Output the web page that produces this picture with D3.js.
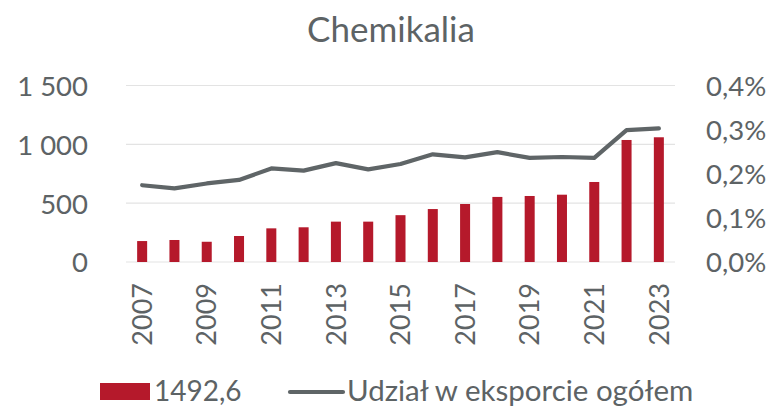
<!DOCTYPE html>
<html>
<head>
<meta charset="utf-8">
<script src="https://cdn.jsdelivr.net/npm/d3@7"></script>
<style>
  html, body { margin: 0; padding: 0; background: #fff; }
  svg { display: block; font-family: Lato, "Open Sans", sans-serif; }
</style>
</head>
<body>
<svg id="chart" width="771" height="407"></svg>
<script>
// Chemical exports: value (left axis) and share of total exports (right axis, %)
const years = ["2007","2008","2009","2010","2011","2012","2013","2014","2015",
               "2016","2017","2018","2019","2020","2021","2022","2023"];
const exportValue = [178, 187, 172, 221, 286, 295, 343, 343, 398,
                     450, 493, 553, 561, 572, 680, 1037, 1060];
const exportShare = [0.174, 0.167, 0.178, 0.186, 0.212, 0.207, 0.224, 0.210, 0.222,
                     0.244, 0.237, 0.249, 0.236, 0.238, 0.236, 0.299, 0.303];
const leftTicks = [0, 500, 1000, 1500];
const rightTicks = [0, 0.1, 0.2, 0.3, 0.4];
const title = "Chemikalia";
const barSeriesName = "1492,6";
const lineSeriesName = "Udział w eksporcie ogółem";

const svg = d3.select("#chart");
const textColor = "#5d6365";
const barColor = "#b5192b";
const lineColor = "#5f6567";
const gridColor = "#e3e3e3";

const plot = { left: 126, right: 675, top: 85.5, bottom: 262 };

const x = d3.scaleBand().domain(years).range([plot.left, plot.right]).paddingInner(0.69).paddingOuter(0.345);
const yL = d3.scaleLinear().domain([0, 1500]).range([plot.bottom, plot.top]);
const yR = d3.scaleLinear().domain([0, 0.4]).range([plot.bottom, plot.top]);

// gridlines
svg.append("g").selectAll("line").data(leftTicks).join("line")
  .attr("x1", plot.left).attr("x2", plot.right)
  .attr("y1", d => yL(d)).attr("y2", d => yL(d))
  .attr("stroke", gridColor).attr("stroke-width", 1.2);

// left axis
const fmtL = d => d3.format(",")(d).replace(/,/g, " ");
const leftAxis = svg.append("g").attr("transform", `translate(${plot.left - 36},0)`)
  .call(d3.axisLeft(yL).tickValues(leftTicks).tickFormat(fmtL).tickSize(0).tickPadding(2));
leftAxis.select(".domain").remove();
leftAxis.selectAll("text").attr("fill", textColor).style("font-size", "27.5px")
  .style("font-family", "Lato, sans-serif").attr("dy", "0.36em");

// right axis
const fmtR = d => d3.format(".1f")(d).replace(".", ",") + "%";
const rightAxis = svg.append("g").attr("transform", `translate(${plot.right + 29},0)`)
  .call(d3.axisRight(yR).tickValues(rightTicks).tickFormat(fmtR).tickSize(0).tickPadding(2));
rightAxis.select(".domain").remove();
rightAxis.selectAll("text").attr("fill", textColor).style("font-size", "27.5px")
  .style("font-family", "Lato, sans-serif").attr("dy", "0.36em");

// bars
svg.append("g").selectAll("rect").data(years).join("rect")
  .attr("x", d => x(d)).attr("width", x.bandwidth())
  .attr("y", (d, i) => yL(exportValue[i]))
  .attr("height", (d, i) => yL(0) - yL(exportValue[i]))
  .attr("fill", barColor);

// line
const line = d3.line()
  .x((d, i) => x(years[i]) + x.bandwidth() / 2)
  .y(d => yR(d));
svg.append("path").datum(exportShare)
  .attr("d", line).attr("fill", "none")
  .attr("stroke", lineColor).attr("stroke-width", 4.2)
  .attr("stroke-linejoin", "round").attr("stroke-linecap", "round");

// x-axis labels (every other year), rotated
const xAxis = svg.append("g").attr("transform", `translate(0,${plot.bottom})`)
  .call(d3.axisBottom(x).tickValues(years.filter((d, i) => i % 2 === 0)).tickSize(0).tickPadding(0));
xAxis.select(".domain").remove();
xAxis.selectAll("text")
  .attr("fill", textColor).style("font-size", "27px").style("font-family", "Lato, sans-serif")
  .attr("text-anchor", "end")
  .attr("transform", "rotate(-90)")
  .attr("x", -21).attr("y", 0).attr("dy", "0.36em");

// title
svg.append("text").attr("x", 391).attr("y", 42).attr("text-anchor", "middle")
  .attr("fill", textColor).style("font-size", "35px").text(title);

// legend
const lg = svg.append("g");
lg.append("rect").attr("x", 100).attr("y", 383).attr("width", 50).attr("height", 17).attr("fill", barColor);
lg.append("text").attr("x", 154).attr("y", 401).attr("fill", textColor).style("font-size", "28px").text(barSeriesName);
lg.append("line").attr("x1", 290).attr("x2", 343).attr("y1", 392).attr("y2", 392)
  .attr("stroke", lineColor).attr("stroke-width", 4.2).attr("stroke-linecap", "round");
lg.append("text").attr("x", 347).attr("y", 401).attr("fill", textColor).style("font-size", "29.5px").text(lineSeriesName);
</script>
</body>
</html>
